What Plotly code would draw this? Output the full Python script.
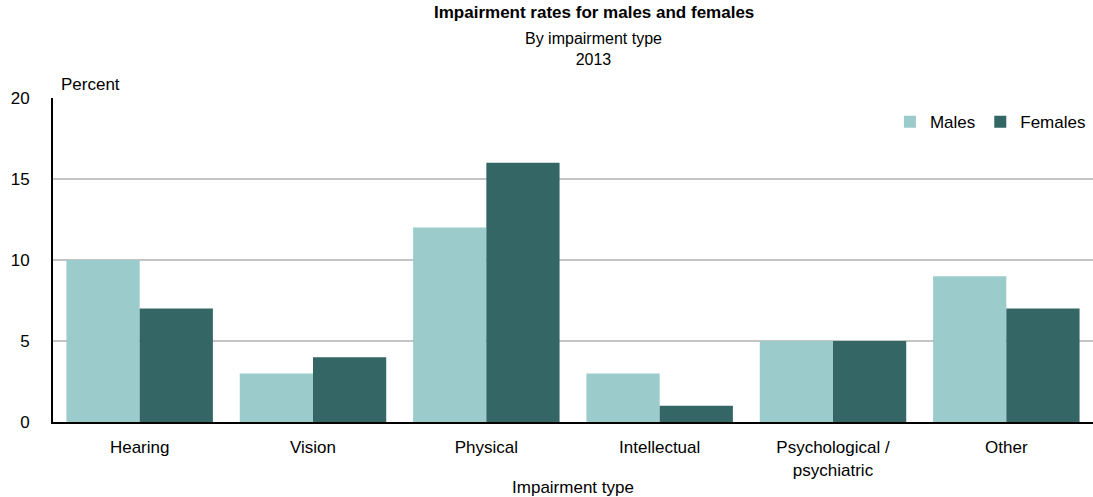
import plotly.graph_objects as go

categories = ["Hearing", "Vision", "Physical", "Intellectual",
              "Psychological /<br>psychiatric", "Other"]
males = [10, 3, 12, 3, 5, 9]
females = [7, 4, 16, 1, 5, 7]
y_ticks = [0, 5, 10, 15, 20]

FONT = "Liberation Sans, Arial, sans-serif"

fig = go.Figure()
fig.add_trace(go.Bar(name="Males", x=categories, y=males,
                     marker=dict(color="#9ccbcc", line=dict(width=0))))
fig.add_trace(go.Bar(name="Females", x=categories, y=females,
                     marker=dict(color="#356666", line=dict(width=0))))

fig.update_layout(
    width=1093, height=497,
    margin=dict(l=53, r=0, t=98, b=75),
    paper_bgcolor="white", plot_bgcolor="white",
    font=dict(family=FONT, size=17, color="black"),
    barmode="group", bargap=0.155, bargroupgap=0,
    showlegend=True,
    legend=dict(orientation="h", x=0.998, xanchor="right", y=0.925, yanchor="middle",
                font=dict(size=17), bgcolor="rgba(0,0,0,0)",
                itemwidth=30, traceorder="normal"),
    xaxis=dict(showline=True, linecolor="black", linewidth=2,
               showgrid=False, ticks="", tickfont=dict(size=17),
               ticklabelstandoff=9,
               title=dict(text="Impairment type", font=dict(size=17), standoff=6)),
    yaxis=dict(range=[0, 20], tickvals=y_ticks, showline=True, linecolor="black",
               linewidth=2, showgrid=True, gridcolor="#c4c4c4", gridwidth=2,
               ticks="", ticklabelstandoff=18, tickfont=dict(size=17),
               zeroline=False),
    annotations=[
        dict(text="Percent", x=0.006, xref="paper", xanchor="left",
             y=1.0, yref="paper", yanchor="bottom", yshift=2,
             showarrow=False, font=dict(size=17)),
        dict(text="<b>Impairment rates for males and females</b>", x=0.52, xref="paper",
             y=1.0, yref="paper", yanchor="middle", yshift=86,
             showarrow=False, font=dict(size=17)),
        dict(text="By impairment type<br>2013", x=0.52, xref="paper",
             y=1.0, yref="paper", yanchor="middle", yshift=49,
             showarrow=False, font=dict(size=16)),
    ],
)

fig.write_html("out.html")
